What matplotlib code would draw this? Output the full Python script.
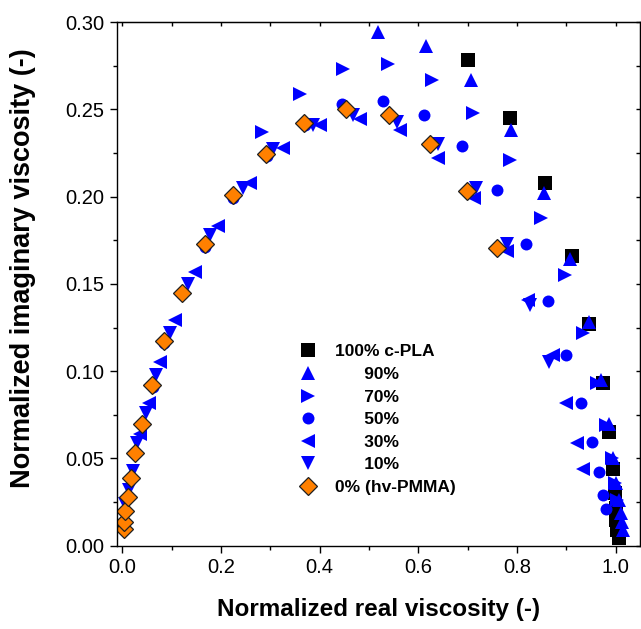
import matplotlib
matplotlib.use('Agg')
import matplotlib.pyplot as plt
from matplotlib.ticker import MultipleLocator

plt.rcParams['font.family'] = ['Liberation Sans', 'DejaVu Sans']

# normalized real / imaginary viscosity for each blend
x_100 = [0.700, 0.785, 0.856, 0.911, 0.947, 0.974, 0.986, 0.994, 0.998, 1.000, 1.001, 1.002, 1.006]
y_100 = [0.278, 0.245, 0.2075, 0.166, 0.127, 0.093, 0.065, 0.044, 0.030, 0.0216, 0.0147, 0.009, 0.0044]

x_90 = [0.518, 0.615, 0.706, 0.787, 0.854, 0.907, 0.946, 0.971, 0.986, 0.995, 1.001, 1.008, 1.012, 1.014, 1.016]
y_90 = [0.294, 0.286, 0.267, 0.238, 0.202, 0.164, 0.128, 0.095, 0.070, 0.050, 0.036, 0.026, 0.019, 0.0136, 0.009]

x_70 = [0.283, 0.360, 0.448, 0.539, 0.628, 0.711, 0.785, 0.848, 0.897, 0.934, 0.962, 0.981, 0.992, 0.998, 1.002]
y_70 = [0.237, 0.259, 0.273, 0.276, 0.267, 0.248, 0.221, 0.188, 0.155, 0.122, 0.093, 0.069, 0.050, 0.036, 0.026]

x_50 = [0.062, 0.085, 0.121, 0.168, 0.225, 0.293, 0.370, 0.445, 0.529, 0.612, 0.689, 0.760, 0.818,
        0.864, 0.899, 0.929, 0.953, 0.966, 0.974, 0.981]
y_50 = [0.091, 0.116, 0.144, 0.171, 0.199, 0.2235, 0.241, 0.253, 0.255, 0.247, 0.229, 0.2035, 0.173,
        0.140, 0.109, 0.082, 0.0595, 0.042, 0.029, 0.021]

x_30 = [0.036, 0.053, 0.077, 0.107, 0.148, 0.194, 0.259, 0.325, 0.401, 0.482, 0.563, 0.640, 0.713,
        0.779, 0.822, 0.873, 0.900, 0.922, 0.934]
y_30 = [0.064, 0.082, 0.105, 0.1295, 0.157, 0.183, 0.208, 0.228, 0.241, 0.2445, 0.238, 0.222, 0.199,
        0.169, 0.141, 0.109, 0.082, 0.059, 0.044]

x_10 = [0.006, 0.013, 0.022, 0.030, 0.047, 0.069, 0.097, 0.134, 0.178, 0.245, 0.306, 0.387, 0.468,
        0.556, 0.640, 0.717, 0.779, 0.827, 0.865]
y_10 = [0.024, 0.032, 0.043, 0.059, 0.076, 0.098, 0.122, 0.150, 0.178, 0.205, 0.227, 0.241, 0.247,
        0.243, 0.230, 0.205, 0.173, 0.138, 0.105]

x_0 = [0.003, 0.004, 0.006, 0.011, 0.018, 0.026, 0.040, 0.060, 0.084, 0.121, 0.167, 0.224, 0.291,
       0.369, 0.453, 0.541, 0.624, 0.698, 0.759]
y_0 = [0.0094, 0.0137, 0.020, 0.028, 0.039, 0.053, 0.070, 0.092, 0.117, 0.145, 0.173, 0.201, 0.2245,
       0.242, 0.250, 0.2465, 0.230, 0.203, 0.1705]

fig = plt.figure(figsize=(6.41, 6.29), dpi=100)
ax = fig.add_axes([0.1825, 0.1324, 0.8155, 0.8326])

blue = '#0000ff'
ax.plot(x_100, y_100, 's', color='black', ms=9.4, mew=0, label='100% c-PLA')
ax.plot(x_90, y_90, '^', color=blue, ms=10, mew=0, label='      90%')
ax.plot(x_70, y_70, '>', color=blue, ms=10, mew=0, label='      70%')
ax.plot(x_50, y_50, 'o', color=blue, ms=8.6, mew=0, label='      50%')
ax.plot(x_30, y_30, '<', color=blue, ms=10, mew=0, label='      30%')
ax.plot(x_10, y_10, 'v', color=blue, ms=10, mew=0, label='      10%')
ax.plot(x_0, y_0, 'D', color='#ff8000', ms=9, mec='#202020', mew=0.9, label='0% (hv-PMMA)')

ax.set_xlim(-0.011, 1.049)
ax.set_ylim(0, 0.30)
ax.xaxis.set_major_locator(MultipleLocator(0.2))
ax.xaxis.set_minor_locator(MultipleLocator(0.1))
ax.yaxis.set_major_locator(MultipleLocator(0.05))
ax.yaxis.set_minor_locator(MultipleLocator(0.025))
ax.xaxis.set_major_formatter(matplotlib.ticker.FormatStrFormatter('%.1f'))
ax.yaxis.set_major_formatter(matplotlib.ticker.FormatStrFormatter('%.2f'))

for s in ax.spines.values():
    s.set_linewidth(1.0)
ax.tick_params(which='major', direction='out', length=5, width=1.0, labelsize=14.5, pad=4,
               top=False, right=False)
ax.tick_params(which='minor', direction='out', length=3, width=1.0, top=False, right=False)
ax2 = ax.secondary_xaxis('top')
ax2.xaxis.set_major_locator(MultipleLocator(0.1))
ax2.tick_params(direction='in', length=3, width=1.0, labeltop=False)
ax3 = ax.secondary_yaxis('right')
ax3.yaxis.set_major_locator(MultipleLocator(0.025))
ax3.tick_params(direction='in', length=3, width=1.0, labelright=False)

ax.set_xlabel('Normalized real viscosity (-)', fontsize=17.5, fontweight='bold', labelpad=15)
ax.set_ylabel('Normalized imaginary viscosity (-)', fontsize=19.5, fontweight='bold')
ax.yaxis.set_label_coords(-0.155, 0.53)

ax.legend(loc='upper left', bbox_to_anchor=(0.335, 0.398), frameon=False,
          prop={'weight': 'bold', 'size': 12.5}, handlelength=1.0, handletextpad=1.07,
          labelspacing=0.43, borderaxespad=0)

fig.savefig('out.png', dpi=100)
